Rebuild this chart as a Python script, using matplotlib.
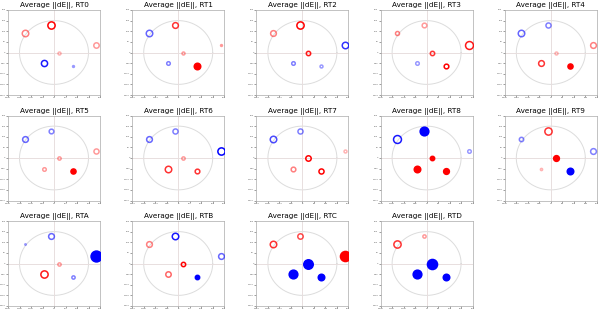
import numpy as np
import matplotlib
matplotlib.use("Agg")
import matplotlib.pyplot as plt

# site positions (same in every panel)
px = [-12, -128, 184, 23, -43, 83]
py = [129, 90, 35, 0, -50, -63]
R = 150

names = ["RT0", "RT1", "RT2", "RT3", "RT4", "RT5", "RT6",
         "RT7", "RT8", "RT9", "RTA", "RTB", "RTC", "RTD"]

# signed size: + red, - blue
dE = [
    [6.7, 6.0, 5.0, 2.7, -5.7, -1.7],
    [5.3, -6.0, 1.7, 2.7, -3.3, 6.0],
    [6.7, 5.3, -6.0, 4.0, -3.3, -2.7],
    [4.3, 3.7, 7.3, 4.0, -3.3, 4.3],
    [-4.7, -6.0, 5.3, 2.7, 5.3, 4.7],
    [-4.3, -5.3, 4.7, 3.0, 3.3, 4.7],
    [-4.7, -5.3, -6.7, 3.0, 6.0, 4.3],
    [-4.7, -6.0, 2.7, 5.0, 4.3, 4.7],
    [-8.0, -7.3, -3.3, 4.0, 6.0, 5.3],
    [6.7, -4.0, -5.3, 5.3, 2.0, -6.0],
    [-5.3, -1.3, -10.0, 3.0, 6.7, -3.0],
    [-6.0, 5.3, -5.3, 4.0, 5.0, -4.0],
    [5.0, 6.0, 9.3, -8.7, -8.0, -6.0],
    [3.0, 6.7, 0.0, -9.3, -8.0, -6.0],
]
alph = [
    [1.0, 0.5, 0.4, 0.3, 0.9, 0.4],
    [0.8, 0.6, 0.4, 0.4, 0.5, 1.0],
    [1.0, 0.5, 0.8, 0.9, 0.5, 0.4],
    [0.4, 0.5, 0.9, 0.8, 0.4, 1.0],
    [0.5, 0.6, 0.5, 0.3, 0.8, 1.0],
    [0.5, 0.6, 0.4, 0.4, 0.4, 1.0],
    [0.5, 0.6, 1.0, 0.4, 0.8, 0.8],
    [0.5, 0.7, 0.3, 1.0, 0.5, 1.0],
    [1.0, 0.9, 0.4, 1.0, 1.0, 1.0],
    [0.8, 0.5, 0.5, 1.0, 0.3, 1.0],
    [0.6, 0.4, 1.0, 0.4, 0.9, 0.5],
    [0.9, 0.5, 0.6, 1.0, 0.6, 1.0],
    [0.7, 0.8, 1.0, 1.0, 1.0, 1.0],
    [0.4, 0.8, 0.0, 1.0, 1.0, 1.0],
]
filled = [
    [0, 0, 0, 0, 0, 0],
    [0, 0, 0, 0, 0, 1],
    [0, 0, 0, 0, 0, 0],
    [0, 0, 0, 0, 0, 0],
    [0, 0, 0, 0, 0, 1],
    [0, 0, 0, 0, 0, 1],
    [0, 0, 0, 0, 0, 0],
    [0, 0, 0, 0, 0, 0],
    [1, 0, 0, 1, 1, 1],
    [0, 0, 0, 1, 0, 1],
    [0, 0, 1, 0, 0, 0],
    [0, 0, 0, 0, 0, 1],
    [0, 0, 1, 1, 1, 1],
    [0, 0, 0, 1, 1, 1],
]

fig = plt.figure(figsize=(6, 3.1), dpi=100)
W, H = 600, 310
aw, ah = 92, 85
theta = np.linspace(0, 2 * np.pi, 300)

for k, name in enumerate(names):
    r, c = divmod(k, 5)
    left = 8 + 124.2 * c
    top = 10 + 105.5 * r
    ax = fig.add_axes([left / W, (H - top - ah) / H, aw / W, ah / H])
    ax.plot(R * np.cos(theta), R * np.sin(theta), color="#dcdcdc", lw=0.7, zorder=1)
    ax.axhline(0, color="#e8dede", lw=0.7, zorder=1)
    ax.axvline(0, color="#e8dede", lw=0.7, zorder=1)
    for i in range(len(px)):
        v = dE[k][i]
        if v == 0:
            continue
        col = "red" if v > 0 else "blue"
        ms = abs(v) * 0.78
        ax.plot(px[i], py[i], "o", ms=ms, mec=col,
                mfc=col if filled[k][i] else "none",
                mew=1.1, alpha=alph[k][i], zorder=3)
    ax.set_xlim(-200, 200)
    ax.set_ylim(-200, 200)
    ax.set_xticks(np.arange(-200, 201, 50))
    ax.set_yticks(np.arange(-200, 201, 50))
    ax.tick_params(labelsize=1.5, length=1.2, width=0.4, pad=0.5, colors="#555555")
    for s in ax.spines.values():
        s.set_color("#aaaaaa")
        s.set_linewidth(0.5)
    ax.set_title("Average ||dE||, " + name, fontsize=5.2, pad=2)

fig.savefig("out.png", dpi=100)
